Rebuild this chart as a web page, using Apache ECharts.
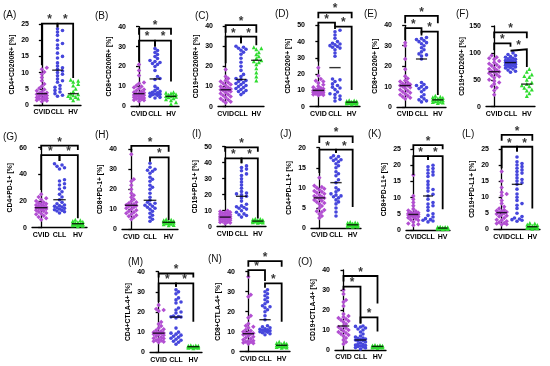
<!DOCTYPE html>
<html><head><meta charset="utf-8">
<script src="https://cdn.jsdelivr.net/npm/echarts@6/dist/echarts.min.js"></script>
<style>html,body{margin:0;padding:0;background:#fff}#c{width:550px;height:366px}</style>
</head><body><div id="c"></div>
<script>
// ---------- DATA ----------
const categories = ['CVID', 'CLL', 'HV'];
const panelLabels = ['(A)','(B)','(C)','(D)','(E)','(F)','(G)','(H)','(I)','(J)','(K)','(L)','(M)','(N)','(O)'];
const yNames = ['CD4+CD200R+ [%]','CD8+CD200R+ [%]','CD19+CD200R+ [%]','CD4+CD200+ [%]','CD8+CD200+ [%]','CD19+CD200+ [%]',
  'CD4+PD-1+ [%]','CD8+PD-1+ [%]','CD19+PD-1+ [%]','CD4+PD-L1+ [%]','CD8+PD-L1+ [%]','CD19+PD-L1+ [%]',
  'CD4+CTLA-4+ [%]','CD8+CTLA-4+ [%]','CD19+CTLA-4+ [%]'];
const yMax  = [25, 40, 40, 50, 40, 150, 60, 40, 50, 20, 25, 25, 40, 40, 40];
const yStep = [5, 10, 10, 10, 10, 50, 20, 10, 10, 5, 5, 5, 10, 10, 10];

const cvidA = [11.5,11.0,10.2,9.5,8.5,7.5,6.5,5.8,5.2,4.8,4.4,4.1,3.8,3.6,3.4,3.3,3.1,2.9,2.7,2.5,2.3,2.1,1.9,1.7,1.5,1.3,1.1,2.0];
const cllA  = [23.5,23,22.5,21.5,20,19,18.5,17.5,16,15,14.5,13,12,11.5,11,10.5,10,9.5,9,8,7.5,7,6,5.5,5,4.5,4,3.5,3,2.7];
const hvA   = [7.8,7.5,7.2,6.5,6,5,4.2,3.5,3.3,3.0,2.8,2.5,2.2,2,1.5];

const cvidB = [21,18,15.5,12,11.5,10.5,10,9.5,9,8.5,8,7.5,7,6.8,6.5,6.2,6,5.7,5.5,5.2,5,4.8,4.5,4.2,4,3.8,3.5,3.2,3,2.5];
const cllB  = [29,28,27,26,25,24,23,22.5,22,21.5,21,20,18,15,14,13.5,10,9,8,7.5,7,6.8,6.5,6.2,6,5.8,5.5,5,4.5,4.2];
const hvB   = [7,6.8,6.5,6,5.8,5.5,5.2,5,4.8,4.5,4,3.5,3,2,1.2];

const cvidC = [18.5,15,14,13,12.5,12,11.5,11,10.5,10,9.5,9,8.8,8.6,8.4,8.2,8,7.5,7,6.5,6,5.5,5,4.5,4,3.5,3,2.5,2];
const cllC  = [30,29.5,29,28.5,28,27,26,24,22,20,18,16,15,14,13.5,13,12.5,12,11.5,11,10.5,10,9.5,9,8.5,8,7.5,7,6];
const hvC   = [29.5,29,28.5,27,26,25,24,23,22.5,22,21,19,17,15,13];

const cvidD = [24,19,17,16,15.5,14.5,13.5,12.5,12,11.5,11,10.8,10.5,10,10,9.8,9.5,9.3,9,8.8,8.5,8.2,8,7.8,7.5,7.2,7];
const cllD  = [47,46,44,42,40,39,38.5,38,37.5,37,36.5,36,35,33,31,17,16.5,15.5,14,13,12,11.5,10.5,9,8,7.5,6.5,5.5,4.5,3.5];
const hvD   = [4,3.8,3.5,3.3,3.1,3,2.9,2.8,2.7,2.5,2.3,2.1,2,1.8,1.5];

const cvidE = [31.5,30,23.5,18.5,15,14,13,12.5,12,11.5,11,10.8,10.5,10.5,10,9.5,9,8.5,8,7.5,7,6.5,6,5.5,5,4.5,4];
const cllE  = [34,33.5,33,32.5,32,31.5,31,30,29,28,27,26,25.5,25,23.5,12,11,10.5,10,9.5,9,8.5,7.5,6,5,4,3.5,3,2.5];
const hvE   = [5.5,5,4.8,4.5,4.2,4,3.8,3.5,3.3,3,2.8,2.6,2.4,2.2,2];

const cvidF = [95,92,90,88,85,82,80,78,76,74,72,70,68,66,65,64,62,60,58,56,54,50,48,45,42,38,35,30,22];
const cllF  = [100,97,95,93,92,90,89,88,87,86,85,84,83,82.5,82,81,80,79,78,77,76,75,74,73,72,70,68,66,64];
const hvF   = [70,65,60,57,55,50,45,42,40,38,35,32,30,25,20];

const cvidG = [25,23,22,21,20,19,18.5,18,17.5,17,16.5,16,15.5,15.2,15,14.8,14.5,14,13.5,13,12.5,12,11,10.5,10,9,8,7,6];
const cllG  = [48,47,46,45,44,36,35,33,32,30,29,27,25,23,21,19,18,17,16.5,16,15.5,15,14.5,14,13.5,13,12.5,12,11];
const hvG   = [6,5.5,5,4.5,4,3.5,3.2,3,2.8,2.5,2.2,2,1.8,1.5,1];

const cvidH = [37.5,25,24,22,20,18,17,16,15,14,13.5,13,12.5,12.2,12,11.8,11.5,11,10.5,10,9.5,9,8.5,8,7.5,7,6.5,6,5];
const cllH  = [33,31,30,29.5,29,28,26,25,24,22,21,20,18,16,14.5,13.5,13,12.5,12,11.5,11,10.5,10,9,8,7,6,5,4];
const hvH   = [5,4.8,4.5,4.2,4,3.8,3.6,3.5,3.4,3.2,3,2.8,2.5,2.2,2];

const cvidI = [10,9.5,9,8.8,8.5,8.2,8,7.5,7.2,7,6.8,6.5,6.2,6.1,6,5.8,5.5,5.2,5,4.8,4.5,4.2,4,3.5,3.2,3,2.8,2.5,2];
const cllI  = [38,37,36,35,33,32,30,28,26,24,22,21,20.5,20,19,18,16,14,13,12.5,12,11.5,11,10,9,8,7.5,7,6];
const hvI   = [5,4.8,4.5,4.2,4,3.8,3.6,3.5,3.4,3.3,3.2,3,2.8,2.6,2.5];

const cvidJ = [12.5,10.5,10.2,10,9.8,9.5,9.2,9,8.8,8.5,8.2,8,7.8,7.6,7.5,7.3,7,6.8,6.5,6.2,6,5.5,5,4.5,4.2,4,3.5,3,2.5];
const cllJ  = [18,17.8,17.5,17.2,17,16.8,16.5,16,15.5,15,14,13.5,13,12,11.3,10,9.5,9,8.5,8.2,8,7.8,7.5,7,6.5,6,5,4,3];
const hvJ   = [1.5,1.4,1.3,1.2,1.1,1,0.9,0.8,0.75,0.7,0.6,0.5,0.45,0.4,0.3];

const cvidK = [17,10.5,9.5,8.5,7.5,6.5,6,5.8,5.5,5.3,5.2,5.1,5,4.9,4.8,4.7,4.6,4.5,4.3,4.1,4,3.8,3.5,3.2,3,2.5,2,1.8,1.5];
const cllK  = [20,19.5,19,18.5,18,17.5,17,16.5,15,14,13,12.5,12,11,10.5,9.5,8.5,8,7.5,7,6,5,4.5,4,3.5,3.2,3,2.8,2.5];
const hvK   = [1,0.95,0.9,0.85,0.8,0.7,0.65,0.6,0.55,0.5,0.45,0.4,0.35,0.3,0.2];

const cvidL = [18,15,13,11.5,11,10.5,9,8,7,6.5,6,5.8,5.6,5.4,5.2,5,4.8,4.5,4.2,4,3.5,3,2.8,2.5,2.2,2,1.8,1.6,1.5];
const cllL  = [22.5,21,20.5,20,19.5,19,18.5,18,17.5,17,16,15.5,15,14.5,14,12.5,11,10,9,8,7.5,6.5,5,4,3.5,3.2,3,2.8,2.5];
const hvL   = [2,1.8,1.5,1.3,1.1,1,0.9,0.8,0.7,0.6,0.5,0.45,0.4,0.3,0.2];

const cvidM = [23.5,21.5,21,20.5,15,14,13,12,11.5,11,10.5,10,9.8,9.6,9.5,9.3,9,8.8,8.5,8,7.5,7,6.8,6.5,6,5.8,5.5,5.2,5];
const cllM  = [31,30,29,27,26,25,24.5,22,21,20,19.5,18,17.8,17.6,17.5,17,12,10,9.5,9,8.5,8,7.5,7,6.5,6,5.5,5,4];
const hvM   = [3.5,3.4,3.3,3.2,3,2.9,2.9,2.8,2.7,2.6,2.5,2.4,2.3,2.2,2];

const cvidN = [37.5,28.5,27.5,18,17,14,13,12.5,12,11,10.5,10,9.5,9.2,9,8.8,8.5,8,7.5,7,6.5,6,5.5,5.2,5,4.8,4.5,4.2,4];
const cllN  = [31,30,29,28,27,26,25,24,23,22.5,22,21,20,18,16,13,12.5,12,11.5,11.2,11,10.8,10.5,10.2,10,9.8,9.5,9,8.5];
const hvN   = [5,4.6,4.3,4,3.8,3.5,3.3,3.2,3,2.9,2.7,2.5,2.3,2.1,2];

const cvidO = [30,28,25,24,22,18,17,16.5,16,15.5,15,14.5,14,13,12,11.5,11,10.5,10,9.5,9,8.5,8,7.5,7,6,5,4,3];
const cllO  = [12,11.8,11.5,11,10.5,10,9,8,7,6.5,6,5.8,5.5,5.2,5,4.8,4.5,4,3.5,3,2.8,2.5,2.2,2,1.8,1.5,1.2,1,0.5];
const hvO   = [2.5,2.4,2.2,2.1,2,1.9,1.9,1.8,1.7,1.6,1.5,1.4,1.3,1.2,1];

// significance brackets: [groupFrom, groupTo, barLevel, legFromEnd, legToEnd]
const brA = [[0,1,25.1,12.3,24],[1,2,25.1,24,8.3]];
const brB = [[0,2,39,36,36],[0,1,33,22.4,30],[1,2,33,30,12.4]];
const brC = [[0,2,40.4,36.6,36.6],[0,1,34.7,21.5,31.4],[1,2,34.7,31.4,30.5]];
const brD = [[0,2,57.8,54.3,54.3],[0,1,51.6,27.7,49.2],[1,2,49.2,47.8,10.2]];
const brE = [[0,2,44.6,41,41],[0,1,38.6,32.8,36],[1,2,36.9,35,5.9]];
const brF = [[0,2,138,127,127],[0,1,117.8,105,111.5],[1,2,106.6,104,74]];
const brG = [[0,2,61.5,58.3,58.3],[0,1,54.5,28.3,50],[1,2,54.5,50,7]];
const brH = [[0,2,41.7,38.8,38.8],[1,2,36,33.8,4.7]];
const brI = [[0,2,49.6,46.9,46.9],[0,1,42.7,16.7,39.6],[1,2,42.7,39.6,5.2]];
const brJ = [[0,2,22.8,21.2,21.2],[0,1,19.5,13.7,18.7],[1,2,19.5,18.7,5.2]];
const brK = [[0,2,26.2,24.9,24.9],[0,1,22.8,17,21.6],[1,2,22.8,21.6,6.4]];
const brL = [[0,2,29.4,27.6,27.6],[0,1,25.7,19,24.2],[1,2,25.7,24.2,6.5]];
const brM = [[0,2,39.1,37.1,37.1],[0,1,34.2,25,32.5],[1,2,34.2,32.5,15.2]];
const brN = [[0,2,45.3,42.5,42.5],[0,1,40.8,37.5,35.3],[1,2,34.2,32,15]];
const brO = [[0,2,37,34.2,23.3],[0,1,31.7,30,13.3],[1,2,16.3,13.3,9.2]];

const groups = [
  [cvidA,cllA,hvA],[cvidB,cllB,hvB],[cvidC,cllC,hvC],[cvidD,cllD,hvD],[cvidE,cllE,hvE],[cvidF,cllF,hvF],
  [cvidG,cllG,hvG],[cvidH,cllH,hvH],[cvidI,cllI,hvI],[cvidJ,cllJ,hvJ],[cvidK,cllK,hvK],[cvidL,cllL,hvL],
  [cvidM,cllM,hvM],[cvidN,cllN,hvN],[cvidO,cllO,hvO]];
const brackets = [brA,brB,brC,brD,brE,brF,brG,brH,brI,brJ,brK,brL,brM,brN,brO];

// ---------- LAYOUT (pixels) ----------
// [left, right, top, bottom] of each plot area
const boxes = [
  [34,81,24,105],[131,179,26.7,106.3],[218,264,26,106.7],[310,360,25.3,106.7],[397,446,25.3,107],[486,535,26,106.7],
  [32,87,147.7,227.7],[122,178,149.3,229.3],[217,266,146.7,226.7],[311,361,147.7,228],[406,450,149,230],[494,540,149,229.3],
  [150,202,271.7,352.3],[240,290,271.7,351.7],[335,386,270,350]];
const labelPos = [[3,10],[95,11],[195,11],[275,9],[364,9],[456,9],[3,132],[95,130],[192,129],[280,129],[368,129],[462,129],[128,257],[208,254],[298,257]];

const colors = ['#b24fd2', '#4646dc', '#2fdc2f'];
const symbols = ['diamond', 'circle', 'triangle'];
const symSizes = [4.5, 3.6, 4];

function median(a){const s=[...a].sort((x,y)=>x-y);const n=s.length;return n%2?s[(n-1)/2]:(s[n/2-1]+s[n/2])/2;}
function swarm(vals, ppu, band){
  const idx = vals.map((v,i)=>i).sort((a,b)=>vals[a]-vals[b]);
  const placed=[]; const off=new Array(vals.length).fill(0);
  const step=2.5, maxK=Math.max(1,Math.floor(band*0.4/step));
  for(const i of idx){
    const y=vals[i]*ppu; let best=0,bestD=-1;
    for(let k=0;k<=2*maxK;k++){
      const dx=(k%2?1:-1)*Math.ceil(k/2)*step;
      let md=Infinity;
      for(const p of placed){const d=Math.hypot(p[0]-dx,p[1]-y); if(d<md) md=d;}
      if(md>=3.0){best=dx;bestD=md;break;}
      if(md>bestD){bestD=md;best=dx;}
    }
    placed.push([best,y]); off[i]=best/band;
  }
  return off;
}

const grid=[], xAxis=[], yAxis=[], series=[], title=[];
const FONT = 'Liberation Sans, Arial, sans-serif';
boxes.forEach((b,k)=>{
  const [L,R,T,B]=b; const W=R-L, H=B-T; const band=W/3; const ppu=H/yMax[k];
  grid.push({left:L, top:T, width:W, height:H});
  xAxis.push({type:'category', gridIndex:k, data:categories, boundaryGap:true,
    axisLine:{lineStyle:{color:'#000', width:1.3}}, axisTick:{alignWithLabel:true, length:3, lineStyle:{width:1.3,color:'#000'}},
    axisLabel:{fontSize:7, fontWeight:'bold', color:'#000', margin:4, fontFamily:FONT, interval:0}, splitLine:{show:false}});
  xAxis.push({type:'value', gridIndex:k, min:-0.5, max:2.5, show:false});
  yAxis.push({type:'value', gridIndex:k, min:0, max:yMax[k], interval:yStep[k],
    name:yNames[k], nameLocation:'middle', nameGap:18, nameRotate:90,
    nameTextStyle:{fontSize:6.8, fontWeight:'bold', color:'#000', fontFamily:FONT},
    axisLine:{show:true, lineStyle:{color:'#000', width:1.3}}, axisTick:{show:true, length:3, lineStyle:{width:1.3,color:'#000'}},
    axisLabel:{fontSize:7, fontWeight:'bold', color:'#000', margin:5, fontFamily:FONT}, splitLine:{show:false}});
  title.push({text:panelLabels[k], left:labelPos[k][0], top:labelPos[k][1], padding:0,
    textStyle:{fontSize:10, fontWeight:'normal', color:'#111', fontFamily:FONT}});
  const xi=2*k+1;
  groups[k].forEach((vals,g)=>{
    const off=swarm(vals,ppu,band);
    series.push({type:'scatter', xAxisIndex:xi, yAxisIndex:k, symbol:symbols[g], symbolSize:symSizes[g],
      itemStyle:{color:colors[g], opacity:1}, silent:true,
      data:vals.map((v,i)=>[g+off[i], v])});
  });
  series.push({type:'scatter', xAxisIndex:xi, yAxisIndex:k, symbol:'rect', symbolSize:[band*0.68,1.4],
    itemStyle:{color:'#000'}, silent:true, z:5,
    data:groups[k].map((vals,g)=>[g, median(vals)])});
  brackets[k].forEach(br=>{
    const [i,j,lev,li,lj]=br;
    series.push({type:'line', xAxisIndex:xi, yAxisIndex:k, clip:false, symbol:'none', silent:true,
      lineStyle:{color:'#000', width:1.8, join:'miter'}, data:[[i,li],[i,lev],[j,lev],[j,lj]]});
    series.push({type:'scatter', xAxisIndex:xi, yAxisIndex:k, clip:false, symbolSize:1, silent:true,
      itemStyle:{color:'rgba(0,0,0,0)'},
      label:{show:true, formatter:'*', position:'top', distance:-3, fontSize:12, fontWeight:'bold', color:'#000', fontFamily:FONT},
      data:[[(i+j)/2, lev]]});
  });
});

const chart = echarts.init(document.getElementById('c'), null, {renderer:'canvas'});
chart.setOption({animation:false, backgroundColor:'#fff', title, grid, xAxis, yAxis, series});
</script></body></html>
